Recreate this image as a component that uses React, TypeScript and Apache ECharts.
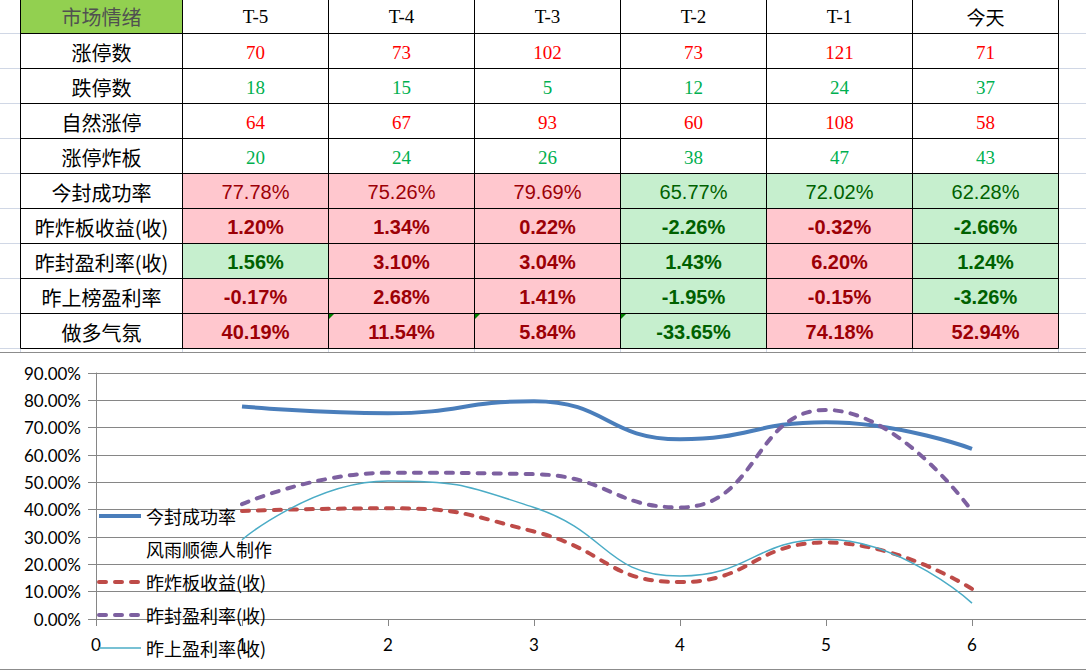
import React, { useEffect, useRef } from 'react';
import * as echarts from 'echarts';

// ---------- data ----------
const headerTitle = '市场情绪';
const periods = ['T-5', 'T-4', 'T-3', 'T-2', 'T-1', '今天'];

const countLabels = ['涨停数', '跌停数', '自然涨停', '涨停炸板'];
const limitUpCounts = [70, 73, 102, 73, 121, 71];
const limitDownCounts = [18, 15, 5, 12, 24, 37];
const naturalLimitUp = [64, 67, 93, 60, 108, 58];
const brokenBoards = [20, 24, 26, 38, 47, 43];
const countColors = ['red', 'green', 'red', 'green'];

const pctLabels = ['今封成功率', '昨炸板收益(收)', '昨封盈利率(收)', '昨上榜盈利率', '做多气氛'];
const sealSuccess = [77.78, 75.26, 79.69, 65.77, 72.02, 62.28];
const brokenReturn = [1.2, 1.34, 0.22, -2.26, -0.32, -2.66];
const sealProfit = [1.56, 3.1, 3.04, 1.43, 6.2, 1.24];
const listProfit = [-0.17, 2.68, 1.41, -1.95, -0.15, -3.26];
const bullMood = [40.19, 11.54, 5.84, -33.65, 74.18, 52.94];
const pctBold = [false, true, true, true, true];
// u = pink (good), d = green (bad)
const sealSuccessTone = ['u', 'u', 'u', 'd', 'd', 'd'];
const brokenReturnTone = ['u', 'u', 'u', 'd', 'u', 'd'];
const sealProfitTone = ['d', 'u', 'u', 'd', 'u', 'd'];
const listProfitTone = ['u', 'u', 'u', 'd', 'u', 'd'];
const bullMoodTone = ['u', 'u', 'u', 'd', 'u', 'u'];
const errorFlagCols = [1, 2, 3];

// chart
const xValues = [1, 2, 3, 4, 5, 6];
const seriesNames = ['今封成功率', '风雨顺德人制作', '昨炸板收益(收)', '昨封盈利率(收)', '昨上盈利率(收)'];
const chartSeal = sealSuccess;
const chartBroken = [39.5, 40.5, 32, 13.5, 28, 11];
const chartSealProfit = [42, 53.5, 53, 40.8, 76.5, 39.5];
const chartListProfit = [29, 50.5, 40.8, 15.7, 29.2, 5.8];
const yTicks = { min: 0, max: 90, interval: 10 };
const xTicks = { min: 0, max: 7, interval: 1 };

// ---------- layout ----------
const colX = [20.5, 182.5, 328.5, 474.5, 620.5, 766.5, 912.5, 1058.5];
const rowY = [-2, 33.5, 68.5, 103.5, 138.5, 173.5, 208.5, 243.5, 278.5, 313.5, 348.5];
const CJK = '"Noto Sans CJK SC", sans-serif';
const SERIF = '"Liberation Serif", serif';
const SANS = '"Liberation Sans", Arial, sans-serif';

function txt(x: number, y: number, text: string, fill: string, fontSize: number, fontFamily: string, bold = false) {
  return {
    type: 'text',
    x,
    y,
    silent: true,
    style: {
      text,
      fill,
      fontSize,
      fontFamily,
      fontWeight: bold ? 'bold' : 'normal',
      align: 'center',
      verticalAlign: 'middle',
      textAlign: 'center',
      textVerticalAlign: 'middle',
    },
  };
}

function buildGraphic() {
  const els: any[] = [];
  const grid = '#D0D7E5';
  for (let i = 1; i < rowY.length; i++) {
    els.push({ type: 'line', silent: true, shape: { x1: 0, y1: rowY[i], x2: 20, y2: rowY[i] }, style: { stroke: grid, lineWidth: 1 } });
    els.push({ type: 'line', silent: true, shape: { x1: 1059, y1: rowY[i], x2: 1086, y2: rowY[i] }, style: { stroke: grid, lineWidth: 1 } });
  }
  for (const x of colX) {
    els.push({ type: 'line', silent: true, shape: { x1: x, y1: 349, x2: x, y2: 352 }, style: { stroke: grid, lineWidth: 1 } });
  }
  els.push({ type: 'rect', silent: true, shape: { x: colX[0], y: rowY[0], width: colX[1] - colX[0], height: rowY[1] - rowY[0] }, style: { fill: '#92D050' } });
  const tones = [sealSuccessTone, brokenReturnTone, sealProfitTone, listProfitTone, bullMoodTone];
  tones.forEach((row, r) => {
    row.forEach((t, c) => {
      const y0 = rowY[5 + r];
      const y1 = rowY[6 + r];
      els.push({
        type: 'rect',
        silent: true,
        shape: { x: colX[c + 1], y: y0, width: colX[c + 2] - colX[c + 1], height: y1 - y0 },
        style: { fill: t === 'u' ? '#FFC7CE' : '#C6EFCE' },
      });
    });
  });
  for (let i = 1; i < rowY.length; i++) {
    els.push({ type: 'line', silent: true, shape: { x1: colX[0], y1: rowY[i], x2: colX[colX.length - 1], y2: rowY[i] }, style: { stroke: '#000', lineWidth: 1 } });
  }
  for (const x of colX) {
    els.push({ type: 'line', silent: true, shape: { x1: x, y1: rowY[0], x2: x, y2: rowY[rowY.length - 1] }, style: { stroke: '#000', lineWidth: 1 } });
  }
  for (const c of errorFlagCols) {
    const x = colX[c + 1] + 0.5;
    const y = rowY[9] + 0.5;
    els.push({ type: 'polygon', silent: true, shape: { points: [[x, y], [x + 5, y], [x, y + 5]] }, style: { fill: '#008000' } });
  }
  const cx = (c: number) => (colX[c] + colX[c + 1]) / 2;
  const cy = (r: number) => (rowY[r] + rowY[r + 1]) / 2 + 1;
  els.push(txt(cx(0), cy(0), headerTitle, '#505050', 20, CJK));
  periods.forEach((p, i) => {
    els.push(txt(cx(i + 1), cy(0), p, '#000', 19, /[\u4e00-\u9fff]/.test(p) ? CJK : SERIF));
  });
  const counts = [limitUpCounts, limitDownCounts, naturalLimitUp, brokenBoards];
  counts.forEach((row, r) => {
    els.push(txt(cx(0), cy(r + 1), countLabels[r], '#000', 20, CJK));
    const col = countColors[r] === 'red' ? '#FF0000' : '#00B050';
    row.forEach((v, c) => els.push(txt(cx(c + 1), cy(r + 1), String(v), col, 19, SERIF)));
  });
  const pcts = [sealSuccess, brokenReturn, sealProfit, listProfit, bullMood];
  pcts.forEach((row, r) => {
    els.push(txt(cx(0), cy(r + 5), pctLabels[r], '#000', 20, CJK));
    row.forEach((v, c) => {
      const tone = tones[r][c];
      els.push(txt(cx(c + 1), cy(r + 5), v.toFixed(2) + '%', tone === 'u' ? '#9C0006' : '#006100', 20, SANS, pctBold[r]));
    });
  });
  els.push({ type: 'line', silent: true, shape: { x1: 0, y1: 352.5, x2: 1086, y2: 352.5 }, style: { stroke: '#8C8C8C', lineWidth: 1 } });
  els.push({ type: 'line', silent: true, shape: { x1: 0, y1: 669.5, x2: 1086, y2: 669.5 }, style: { stroke: '#8C8C8C', lineWidth: 1 } });
  return els;
}

function pairs(ys: number[]) {
  return xValues.map((x, i) => [x, ys[i]]);
}

const seriesColors = ['#4A7EBB', 'rgba(0,0,0,0)', '#BE4B48', '#7D60A0', '#4BACC6'];
const seriesWidths = [4, 0, 4, 4, 1.5];
const dashed = [false, false, true, true, false];

function buildOption() {
  const axisGray = '#868686';
  const dash = { type: [7, 9], cap: 'round' };
  const lineStyleFor = (i: number) => ({
    color: seriesColors[i],
    width: seriesWidths[i],
    ...(dashed[i] ? dash : { type: 'solid' }),
  });
  return {
    animation: false,
    backgroundColor: '#ffffff',
    graphic: { elements: buildGraphic() },
    grid: { left: 96, right: -32, top: 373, bottom: 52, containLabel: false, outerBoundsMode: 'none' },
    xAxis: {
      type: 'value',
      min: xTicks.min,
      max: xTicks.max,
      interval: xTicks.interval,
      axisLine: { show: true, lineStyle: { color: axisGray, width: 1 } },
      axisTick: { show: true, length: 7, lineStyle: { color: axisGray } },
      axisLabel: { color: '#000', fontSize: 17, fontFamily: 'Lato, sans-serif', margin: 17, showMaxLabel: false },
      splitLine: { show: false },
    },
    yAxis: {
      type: 'value',
      min: yTicks.min,
      max: yTicks.max,
      interval: yTicks.interval,
      axisLine: { show: true, lineStyle: { color: axisGray, width: 1 } },
      axisTick: { show: true, length: 8, lineStyle: { color: axisGray } },
      axisLabel: {
        color: '#000',
        fontSize: 17,
        fontFamily: 'Lato, sans-serif',
        margin: 15,
        formatter: (v: number) => v.toFixed(2) + '%',
      },
      splitLine: { show: true, lineStyle: { color: axisGray, width: 1 } },
    },
    legend: {
      orient: 'vertical',
      left: 92,
      top: 502,
      height: 170,
      itemWidth: 42,
      itemHeight: 14,
      itemGap: 15,
      selectedMode: false,
      itemStyle: { opacity: 0 },
      textStyle: { color: '#000', fontSize: 18, lineHeight: 18, fontFamily: CJK },
      data: seriesNames.map((name, i) => ({ name, lineStyle: lineStyleFor(i) })),
    },
    series: seriesNames.map((name, i) => {
      const ys = [chartSeal, null, chartBroken, chartSealProfit, chartListProfit][i];
      return {
        name,
        type: 'line',
        smooth: 0.5,
        symbol: 'none',
        data: ys ? pairs(ys) : [],
        lineStyle: lineStyleFor(i),
        itemStyle: { color: seriesColors[i] },
      };
    }),
  };
}

export default function App() {
  const ref = useRef<HTMLDivElement>(null);
  useEffect(() => {
    if (!ref.current) return;
    const chart = echarts.init(ref.current, null, { renderer: 'svg' });
    chart.setOption(buildOption() as any);
    return () => chart.dispose();
  }, []);
  return (
    <div
      ref={ref}
      style={{ position: 'fixed', left: 0, top: 0, width: 1086, height: 671, background: '#fff' }}
    />
  );
}
